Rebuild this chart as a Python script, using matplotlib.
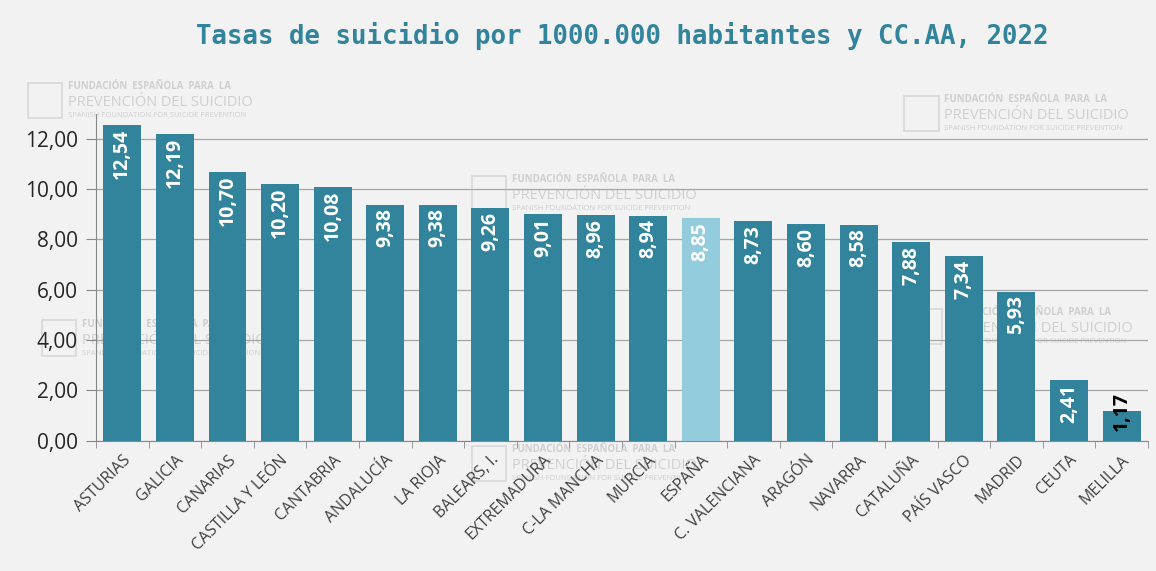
import matplotlib.pyplot as plt
from matplotlib.patches import Rectangle

# datos
regiones = ['ASTURIAS', 'GALICIA', 'CANARIAS', 'CASTILLA Y LEÓN', 'CANTABRIA',
            'ANDALUCÍA', 'LA RIOJA', 'BALEARS, I.', 'EXTREMADURA', 'C-LA MANCHA',
            'MURCIA', 'ESPAÑA', 'C. VALENCIANA', 'ARAGÓN', 'NAVARRA',
            'CATALUÑA', 'PAÍS VASCO', 'MADRID', 'CEUTA', 'MELILLA']
tasas = [12.54, 12.19, 10.70, 10.20, 10.08, 9.38, 9.38, 9.26, 9.01, 8.96,
         8.94, 8.85, 8.73, 8.60, 8.58, 7.88, 7.34, 5.93, 2.41, 1.17]
y_ticks = [0, 2, 4, 6, 8, 10, 12]

fondo = '#F2F2F2'
azul = '#31849B'
azul_claro = '#93CDDD'

plt.rcParams['font.family'] = ['Open Sans', 'DejaVu Sans']

fig = plt.figure(figsize=(11.56, 5.71), dpi=100, facecolor=fondo)
ax = fig.add_axes([0.083, 0.228, 0.910, 0.573])
ax.set_zorder(1)
ax.patch.set_alpha(0)

# marcas de agua (detras de las barras)
def marca(x, y):
    fig.patches.append(Rectangle((x, y - 0.005), 0.030, 0.062, transform=fig.transFigure,
                                 fill=False, ec='#D8D8D8', lw=1.2, zorder=0))
    fig.text(x + 0.035, y + 0.046, 'FUNDACIÓN  ESPAÑOLA  PARA  LA', fontsize=7,
             color='#CFCFCF', fontweight='bold', zorder=0)
    fig.text(x + 0.035, y + 0.016, 'PREVENCIÓN DEL SUICIDIO', fontsize=10.5,
             color='#CFCFCF', zorder=0)
    fig.text(x + 0.035, y - 0.003, 'SPANISH FOUNDATION FOR SUICIDE PREVENTION', fontsize=5.5,
             color='#CFCFCF', zorder=0)

for mx, my in [(0.024, 0.798), (0.782, 0.775), (0.408, 0.635), (0.036, 0.382),
               (0.785, 0.402), (0.408, 0.162)]:
    marca(mx, my)

colores = [azul_claro if r == 'ESPAÑA' else azul for r in regiones]
x = range(len(regiones))
ax.bar(x, tasas, width=0.72, color=colores, zorder=3)

for i, v in enumerate(tasas):
    etiqueta = f'{v:.2f}'.replace('.', ',')
    if v < 2:
        ax.text(i, v + 0.75, etiqueta, rotation=90, ha='center', va='top',
                color='black', fontsize=14, fontweight='bold', zorder=4)
    else:
        ax.text(i, v - 0.15, etiqueta, rotation=90, ha='center', va='top',
                color='white', fontsize=14, fontweight='bold', zorder=4)

ax.set_xlim(-0.5, len(regiones) - 0.5)
ax.set_ylim(0, 13)
ax.set_yticks(y_ticks)
ax.set_yticklabels([f'{t:.2f}'.replace('.', ',') for t in y_ticks], fontsize=15, color='#262626')
ax.set_xticks(list(x))
ax.set_xticklabels(regiones, rotation=45, ha='right', rotation_mode='anchor',
                   fontsize=11.5, color='#404040')
ax.set_xticks([i - 0.5 for i in range(len(regiones) + 1)], minor=True)
ax.tick_params(axis='x', which='major', length=0, pad=8)
ax.tick_params(axis='x', which='minor', length=5, color='#888888', direction='out')
ax.tick_params(axis='y', length=7, color='#888888', pad=6)

ax.grid(axis='y', color='#A6A6A6', lw=0.9, zorder=0)
for s in ['top', 'right']:
    ax.spines[s].set_visible(False)
ax.spines['left'].set_color('#888888')
ax.spines['bottom'].set_color('#888888')

fig.text(0.538, 0.937, 'Tasas de suicidio por 1000.000 habitantes y CC.AA, 2022',
         ha='center', va='center', fontsize=18.5, fontweight='bold', color='#31849B',
         family='DejaVu Sans Mono')

fig.savefig('out.png', dpi=100, facecolor=fondo)
